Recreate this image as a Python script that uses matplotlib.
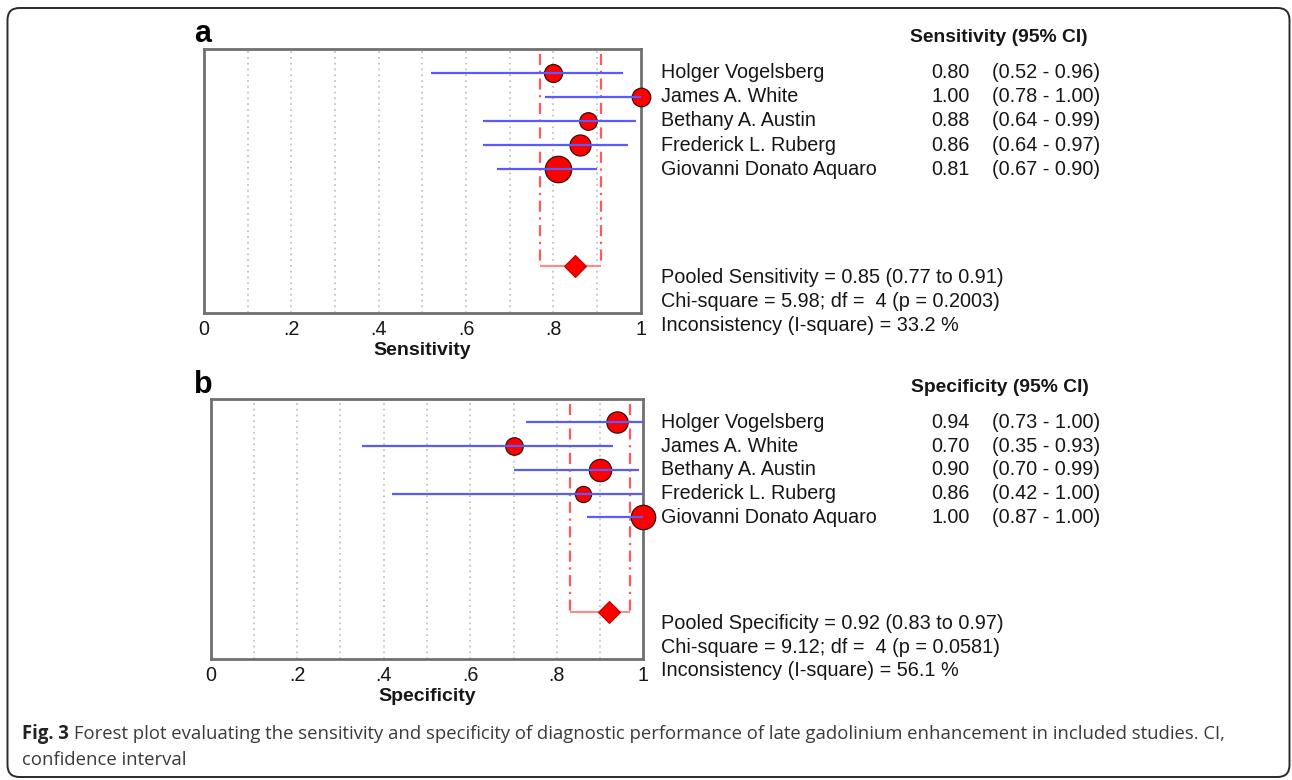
import matplotlib
matplotlib.use("Agg")
import matplotlib.pyplot as plt
import matplotlib.transforms as mtransforms
from matplotlib.patches import FancyBboxPatch
import numpy as np

# ---------------- data ----------------
studies = ["Holger Vogelsberg", "James A. White", "Bethany A. Austin",
           "Frederick L. Ruberg", "Giovanni Donato Aquaro"]

sens = [0.80, 1.00, 0.88, 0.86, 0.81]
sens_lo = [0.52, 0.78, 0.64, 0.64, 0.67]
sens_hi = [0.96, 1.00, 0.99, 0.97, 0.90]
sens_weight = [15.3, 16.3, 14.6, 20.9, 33.0]
sens_pooled = [0.85, 0.77, 0.91]
sens_chi = 5.98
sens_df = 4
sens_p = 0.2003
sens_i2 = 33.2

spec = [0.94, 0.70, 0.90, 0.86, 1.00]
spec_lo = [0.73, 0.35, 0.70, 0.42, 0.87]
spec_hi = [1.00, 0.93, 0.99, 1.00, 1.00]
spec_weight = [21.4, 14.5, 23.6, 12.3, 28.2]
spec_pooled = [0.92, 0.83, 0.97]
spec_chi = 9.12
spec_df = 4
spec_p = 0.0581
spec_i2 = 56.1

xticks = [0, 0.2, 0.4, 0.6, 0.8, 1.0]
xtick_labels = ["0", ".2", ".4", ".6", ".8", "1"]

caption_bold = "Fig. 3"
caption_line1 = ("Forest plot evaluating the sensitivity and specificity of diagnostic "
                 "performance of late gadolinium enhancement in included studies. CI,")
caption_line2 = "confidence interval"

# ---------------- figure ----------------
W, H = 1292, 780
fig = plt.figure(figsize=(W / 100, H / 100), dpi=100)
FONT = "Liberation Sans"
plt.rcParams["font.family"] = [FONT, "DejaVu Sans"]


def fx(px):
    return px / W


def fy(py):
    return 1 - py / H


CI_COLOR = "#5a5aff"
MARK_COLOR = "#ff0000"
POOL_V = "#ff5a5a"
POOL_H = "#ff8a8a"
TXT = "#161616"


def panel(rect, letter, letter_xy, est, lo, hi, wts, pooled, chi, df, p, i2,
          xlabel, header, header_xy):
    ax = fig.add_axes(rect)
    n = len(est)
    rows = np.arange(1, n + 1)
    prow = n + 4
    ax.set_xlim(0, 1)
    ax.set_ylim(10.95, 0.02)
    for g in np.arange(0.1, 0.95, 0.1):
        ax.axvline(g, color="#c4c4c4", lw=1.3, ls=(0, (1, 2.2)), zorder=1)
    # markers
    for r, e, w in zip(rows, est, wts):
        d_px = 4.6 * np.sqrt(w)
        ax.plot([e], [r], marker="o", ms=d_px * 0.72, mfc=MARK_COLOR,
                mec="#3a1010", mew=0.9, ls="none", zorder=3, clip_on=False)
    # CI lines over markers
    ax.hlines(rows, lo, hi, color=CI_COLOR, lw=1.6, zorder=4)
    # pooled bracket
    ax.vlines([pooled[1], pooled[2]], 0.22, prow, color=POOL_V, lw=1.6,
              linestyles=[(0, (5, 2.5, 1, 2.5))], zorder=2)
    ax.hlines([prow], pooled[1], pooled[2], color=POOL_H, lw=1.6, zorder=2)
    ax.plot([pooled[0]], [prow], marker="D", ms=10.8, mfc=MARK_COLOR,
            mec="#c00000", mew=0.8, ls="none", zorder=5)
    # axes styling
    for s in ax.spines.values():
        s.set_color("#707070")
        s.set_linewidth(2)
    ax.set_yticks([])
    ax.set_xticks(xticks)
    ax.set_xticklabels(xtick_labels, fontsize=14.2, family=FONT, color=TXT)
    ax.tick_params(axis="x", length=0, pad=5)
    ax.set_xlabel(xlabel, fontsize=14, fontweight="bold", labelpad=2.5,
                  family=FONT, color=TXT)
    # panel letter
    fig.text(fx(letter_xy[0]), fy(letter_xy[1]), letter, fontsize=22,
             fontweight="bold", ha="left", va="center", family=FONT)
    # header
    fig.text(fx(header_xy[0]), fy(header_xy[1]), header, fontsize=13.9,
             fontweight="bold", ha="left", va="center", family=FONT, color=TXT)
    tr = mtransforms.blended_transform_factory(fig.transFigure, ax.transData)
    for r, name, e, l, h in zip(rows, studies, est, lo, hi):
        fig.text(fx(661), r, name, transform=tr, fontsize=14.2, ha="left",
                 va="center", color=TXT, family=FONT)
        fig.text(fx(970), r, f"{e:.2f}", transform=tr, fontsize=14.2,
                 ha="right", va="center", color=TXT, family=FONT)
        fig.text(fx(992), r, f"({l:.2f} - {h:.2f})", transform=tr,
                 fontsize=14.3, ha="left", va="center", color=TXT,
                 family=FONT)
    stats = [
        f"Pooled {xlabel} = {pooled[0]:.2f} ({pooled[1]:.2f} to {pooled[2]:.2f})",
        f"Chi-square = {chi:.2f}; df =  {df} (p = {p:.4f})",
        f"Inconsistency (I-square) = {i2:.1f} %",
    ]
    for k, s in enumerate(stats):
        fig.text(fx(661), prow + 0.46 + k, s, transform=tr, fontsize=14.3,
                 ha="left", va="center", color=TXT, family=FONT)
    return ax


panel([fx(204), fy(313), (640.7 - 204) / W, (313 - 49) / H], "a", (194, 34),
      sens, sens_lo, sens_hi, sens_weight, sens_pooled, sens_chi, sens_df,
      sens_p, sens_i2, "Sensitivity", "Sensitivity (95% CI)", (910, 38))
panel([fx(210.7), fy(658.7), (643.3 - 210.7) / W, (658.7 - 399) / H], "b",
      (194, 385), spec, spec_lo, spec_hi, spec_weight, spec_pooled, spec_chi,
      spec_df, spec_p, spec_i2, "Specificity", "Specificity (95% CI)",
      (911, 387))

# caption
cap_font = ["Open Sans", "DejaVu Sans"]
CAP_FS = 13.35
t_bold = fig.text(fx(22), fy(734), caption_bold, fontsize=CAP_FS,
                  fontweight="bold", family=cap_font, ha="left", va="center",
                  color="#222222")
fig.canvas.draw()
bb = t_bold.get_window_extent()
fig.text((bb.x1 + 5) / W, fy(734), caption_line1, fontsize=CAP_FS,
         family=cap_font, ha="left", va="center", color="#3a3a3a")
fig.text(fx(22), fy(760), caption_line2, fontsize=CAP_FS, family=cap_font,
         ha="left", va="center", color="#3a3a3a")

# rounded border
border = FancyBboxPatch((7.5, H - 777), 1282, 769,
                        boxstyle="round,pad=0,rounding_size=12",
                        transform=mtransforms.IdentityTransform(),
                        fill=False, ec="#2a2a2a", lw=1.4)
fig.patches.append(border)

fig.savefig("out.png", dpi=100)
